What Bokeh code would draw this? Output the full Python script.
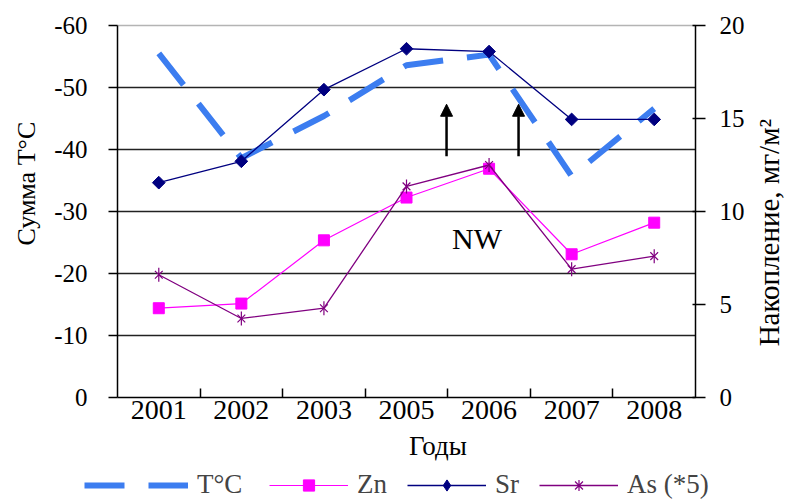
import math
from bokeh.plotting import figure
from bokeh.models import (Range1d, LinearAxis, FixedTicker, Legend, LegendItem,
                          Arrow, NormalHead, Label, ColumnDataSource)
from bokeh.embed import file_html
from bokeh.resources import INLINE

# ---------------- data ----------------
years = ["2001", "2002", "2003", "2005", "2006", "2007", "2008"]
temp_sum = [-55.5, -38.6, -45.4, -53.6, -55.3, -35.7, -46.6]   # left axis (Сумма T°C)
zn = [4.8, 5.05, 8.45, 10.75, 12.3, 7.7, 9.4]                  # right axis (мг/м²)
sr = [11.55, 12.7, 16.55, 18.75, 18.6, 14.95, 14.95]
as5 = [6.6, 4.25, 4.8, 11.35, 12.5, 6.9, 7.6]
left_ticks = [0, -10, -20, -30, -40, -50, -60]
right_ticks = [0, 5, 10, 15, 20]
arrow_x = [3.985, 4.857]
arrow_from = [-38.9, -38.9]
arrow_to = [-47.3, -47.3]

FONT = "Liberation Serif"
BLUE = "#3c7df0"
MAGENTA = "#ff00ff"
NAVY = "#000080"
PURPLE = "#800080"

W, H = 790, 503
# frame geometry (pixels) of the value area inside the canvas
FL, FR, FT, FB = 117, 695, 25, 397
n = len(years)
ppx = (FR - FL) / n
L_lo, L_hi = left_ticks[0], left_ticks[-1]
R_lo, R_hi = right_ticks[0], right_ticks[-1]
ppl = (FB - FT) / (L_lo - L_hi)
ppr = (FB - FT) / (R_hi - R_lo)

x_range = Range1d(-FL / ppx, (W - FL) / ppx)
y_range = Range1d((H - FB) / ppl, -FB / ppl)          # reversed: 0 low, -60 high
acc_range = Range1d(-(H - FB) / ppr, FB / ppr)

xs = [i + 0.5 for i in range(n)]

p = figure(width=W, height=H, x_range=x_range, y_range=y_range, title=None,
           output_backend="svg", toolbar_location=None, min_border=0)
p.extra_y_ranges = {"acc": acc_range}
p.background_fill_color = "white"
p.border_fill_color = "white"
p.outline_line_color = None
p.xgrid.visible = False
p.ygrid.visible = False

# grid lines and top border, drawn from the tick values
p.segment(x0=[0] * (len(left_ticks) - 2), x1=[n] * (len(left_ticks) - 2),
          y0=left_ticks[1:-1], y1=left_ticks[1:-1], line_color="#222222", line_width=1.5)
p.segment(x0=[0], x1=[n], y0=[L_hi], y1=[L_hi], line_color="#b4b4b4", line_width=1.5)

# left axis
ya = p.yaxis[0]
ya.fixed_location = 0
ya.bounds = (L_hi, L_lo)
ya.ticker = FixedTicker(ticks=left_ticks)
ya.major_label_overrides = {float(t): str(t) for t in left_ticks}
ya.major_tick_out = 9
ya.major_tick_in = 0
ya.minor_tick_out = 0
ya.minor_tick_in = 0
ya.major_label_standoff = 21
ya.major_label_text_font = FONT
ya.major_label_text_font_size = "25px"
ya.major_label_text_color = "black"
ya.axis_line_width = 1.5
ya.axis_line_color = "black"
ya.major_tick_line_width = 1.5

# right axis
ra = LinearAxis(y_range_name="acc", ticker=FixedTicker(ticks=right_ticks))
ra.fixed_location = n
ra.bounds = (R_lo, R_hi)
ra.major_tick_out = 10
ra.major_tick_in = 3
ra.minor_tick_out = 0
ra.minor_tick_in = 0
ra.major_label_standoff = 14
ra.major_label_text_font = FONT
ra.major_label_text_font_size = "25px"
ra.major_label_text_color = "black"
ra.axis_line_width = 1.5
ra.major_tick_line_width = 1.5
p.add_layout(ra, "right")

# x axis
xa = p.xaxis[0]
xa.fixed_location = 0
xa.bounds = (0, n)
xa.ticker = FixedTicker(ticks=xs, minor_ticks=list(range(1, n)))
xa.major_label_overrides = {x: y for x, y in zip(xs, years)}
xa.major_tick_line_color = None
xa.major_tick_out = 0
xa.major_tick_in = 0
xa.minor_tick_in = 9
xa.minor_tick_out = 0
xa.minor_tick_line_width = 1.5
xa.minor_tick_line_color = "black"
xa.major_label_standoff = 3
xa.major_label_text_font = FONT
xa.major_label_text_font_size = "28px"
xa.major_label_text_color = "black"
xa.axis_line_width = 1.5

src = ColumnDataSource(dict(x=xs, t=temp_sum, zn=zn, sr=sr, as5=as5))

rt = p.line("x", "t", source=src, line_color=BLUE, line_width=6,
            line_dash="40 24", line_cap="butt")
rzn_l = p.line("x", "zn", source=src, y_range_name="acc", line_color=MAGENTA, line_width=1.2)
rzn_m = p.scatter("x", "zn", source=src, y_range_name="acc", marker="square",
                  size=11, fill_color=MAGENTA, line_color=MAGENTA)
rsr_l = p.line("x", "sr", source=src, y_range_name="acc", line_color=NAVY, line_width=1.3)
rsr_m = p.scatter("x", "sr", source=src, y_range_name="acc", marker="square",
                  angle=math.pi / 4, size=9, fill_color=NAVY, line_color=NAVY)
ras_l = p.line("x", "as5", source=src, y_range_name="acc", line_color=PURPLE, line_width=1.3)
ras_m1 = p.scatter("x", "as5", source=src, y_range_name="acc", marker="x",
                   size=11, line_color=PURPLE, line_width=1.2)
ras_m2 = p.scatter("x", "as5", source=src, y_range_name="acc", marker="dash",
                   angle=math.pi / 2, size=14, line_color=PURPLE, line_width=1.2)

# legend-only marker styles (hidden in the plot itself)
sr_leg = p.scatter("x", "sr", source=src, y_range_name="acc", marker="diamond", size=13,
                   fill_color=NAVY, line_color=NAVY, visible=False)
as_leg = p.scatter("x", "as5", source=src, y_range_name="acc", marker="asterisk", size=12,
                   line_color=PURPLE, line_width=1.2, visible=False)

for x, y0, y1 in zip(arrow_x, arrow_from, arrow_to):
    p.add_layout(Arrow(end=NormalHead(size=12, fill_color="black", line_color="black"),
                       x_start=x, y_start=y0, x_end=x, y_end=y1,
                       line_width=2.5, line_color="black"))

def lab(text, x, y, size, angle=0.0):
    p.add_layout(Label(x=x, y=y, text=text, angle=angle, text_font=FONT,
                       text_font_size=size, text_align="center",
                       text_baseline="middle", text_color="black"))

lab("NW", 4.354, -25.65, "30px")
lab("Сумма T°C", -1.102, -34.5, "26px", math.pi / 2)
lab("Накопление, мг/м²", 7.887, -26.6, "29px", math.pi / 2)
lab("Годы", 3.881, 7.9, "27px")

common = dict(orientation="horizontal", glyph_height=28, label_height=28,
              label_standoff=9, padding=0, margin=0, border_line_color=None,
              background_fill_alpha=0, label_text_font=FONT,
              label_text_font_size="27px")
leg1 = Legend(items=[LegendItem(label="T°C", renderers=[rt])],
              location=(84, 3), glyph_width=104, spacing=0, **common)
leg2 = Legend(items=[LegendItem(label="Zn", renderers=[rzn_l, rzn_m]),
                     LegendItem(label="Sr", renderers=[rsr_l, sr_leg]),
                     LegendItem(label="As (*5)", renderers=[ras_l, as_leg])],
              location=(269, 3), glyph_width=79, spacing=20, **common)
p.add_layout(leg1, "center")
p.add_layout(leg2, "center")

open("out.html", "w").write(file_html(p, INLINE))
